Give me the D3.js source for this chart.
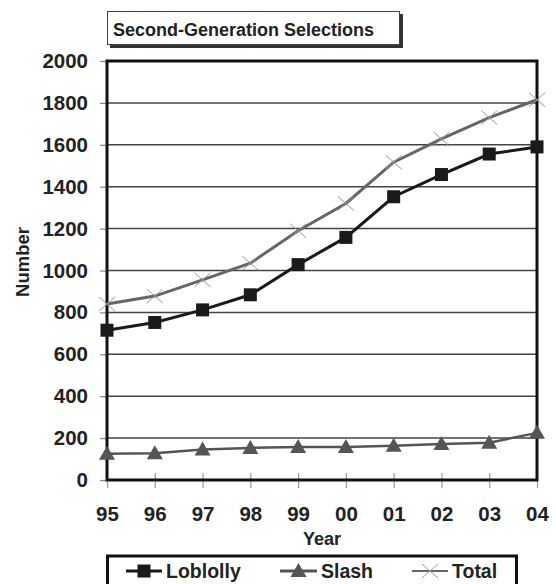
<!DOCTYPE html>
<html><head><meta charset="utf-8">
<script src="https://cdn.jsdelivr.net/npm/d3@7"></script>
<style>body{margin:0;background:#fff}svg{display:block;font-family:"Liberation Sans",Arial,sans-serif}</style>
</head><body>
<svg id="c" width="556" height="584"></svg>
<script>
const years = ["95","96","97","98","99","00","01","02","03","04"];
const loblolly = [715, 752, 812, 884, 1028, 1158, 1352, 1458, 1556, 1590];
const slash = [125, 128, 145, 153, 158, 158, 163, 172, 178, 225];
const total = [840, 878, 955, 1035, 1190, 1320, 1517, 1628, 1730, 1815];
const yTicks = [0, 200, 400, 600, 800, 1000, 1200, 1400, 1600, 1800, 2000];

const svg = d3.select("#c");
const L = 107, R = 537, T = 61, B = 480;
const x = d3.scalePoint().domain(years).range([L, R]);
const y = d3.scaleLinear().domain([0, 2000]).range([B, T]);
const FONT = "Liberation Sans, Arial, sans-serif";

// gridlines
svg.append("g").selectAll("line").data(yTicks.filter(d => d > 0 && d < 2000)).join("line")
  .attr("x1", L).attr("x2", R).attr("y1", d => y(d)).attr("y2", d => y(d))
  .attr("stroke", "#444").attr("stroke-width", 1.5);

// y axis
const ya = svg.append("g").attr("transform", `translate(${L},0)`)
  .call(d3.axisLeft(y).tickValues(yTicks).tickFormat(d3.format("d")).tickSize(7).tickPadding(12));
ya.select(".domain").remove();
ya.selectAll(".tick line").attr("stroke", "#888").attr("stroke-width", 1.2);
ya.selectAll(".tick text").attr("font-size", 20.5).attr("font-weight", "bold").attr("fill", "#222")
  .attr("font-family", FONT);

// x axis
const xa = svg.append("g").attr("transform", `translate(0,${B})`)
  .call(d3.axisBottom(x).tickSize(8).tickPadding(18));
xa.select(".domain").remove();
xa.selectAll(".tick line").attr("y1", -7).attr("stroke", "#999").attr("stroke-width", 1.2);
xa.selectAll(".tick text").attr("font-size", 20.5).attr("font-weight", "bold").attr("fill", "#222")
  .attr("font-family", FONT);

// plot border
svg.append("rect").attr("x", L).attr("y", T).attr("width", R - L).attr("height", B - T)
  .attr("fill", "none").attr("stroke", "#111").attr("stroke-width", 3);

const line = d3.line().x((d, i) => x(years[i])).y(d => y(d));

// Total
svg.append("path").datum(total).attr("d", line).attr("fill", "none")
  .attr("stroke", "#666").attr("stroke-width", 3);
svg.append("g").selectAll("path").data(total).join("path")
  .attr("transform", (d, i) => `translate(${x(years[i])},${y(d)})`)
  .attr("d", "M-8,-7L8,7M-8,7L8,-7").attr("stroke", "#999").attr("stroke-width", 1);

// Slash
svg.append("path").datum(slash).attr("d", line).attr("fill", "none")
  .attr("stroke", "#555").attr("stroke-width", 2.5);
svg.append("g").selectAll("path").data(slash).join("path")
  .attr("transform", (d, i) => `translate(${x(years[i])},${y(d)})`)
  .attr("d", "M0,-8L8,6L-8,6Z").attr("fill", "#555");

// Loblolly
svg.append("path").datum(loblolly).attr("d", line).attr("fill", "none")
  .attr("stroke", "#1a1a1a").attr("stroke-width", 3);
svg.append("g").selectAll("rect").data(loblolly).join("rect")
  .attr("x", (d, i) => x(years[i]) - 6.5).attr("y", d => y(d) - 6.5)
  .attr("width", 13).attr("height", 13).attr("fill", "#1a1a1a");

// title box
svg.append("rect").attr("x", 110).attr("y", 14).attr("width", 293).attr("height", 34).attr("fill", "#333");
svg.append("rect").attr("x", 107.5).attr("y", 11.5).attr("width", 292).attr("height", 33)
  .attr("fill", "#fff").attr("stroke", "#444").attr("stroke-width", 1);
svg.append("text").attr("x", 113).attr("y", 36).attr("font-size", 18).attr("font-weight", "bold")
  .attr("fill", "#222").text("Second-Generation Selections");

// axis titles
svg.append("text").attr("transform", "translate(29,262) rotate(-90)").attr("text-anchor", "middle")
  .attr("font-size", 18.5).attr("font-weight", "bold").attr("fill", "#222").text("Number");
svg.append("text").attr("x", (L + R) / 2).attr("y", 545).attr("text-anchor", "middle")
  .attr("font-size", 18).attr("font-weight", "bold").attr("fill", "#222").text("Year");

// legend
svg.append("rect").attr("x", 107.5).attr("y", 556).attr("width", 409).attr("height", 40)
  .attr("fill", "#fff").attr("stroke", "#111").attr("stroke-width", 3);
const lg = svg.append("g");
const items = [
  {name: "Loblolly", x0: 126, x1: 162, type: "sq", col: "#1a1a1a"},
  {name: "Slash", x0: 280, x1: 317, type: "tri", col: "#555"},
  {name: "Total", x0: 412, x1: 448, type: "x", col: "#666"}
];
const ly = 571;
items.forEach(it => {
  lg.append("line").attr("x1", it.x0).attr("x2", it.x1).attr("y1", ly).attr("y2", ly)
    .attr("stroke", it.col).attr("stroke-width", it.type === "x" ? 2 : 3);
  const cx = (it.x0 + it.x1) / 2;
  if (it.type === "sq") lg.append("rect").attr("x", cx - 6.5).attr("y", ly - 6.5).attr("width", 13).attr("height", 13).attr("fill", it.col);
  if (it.type === "tri") lg.append("path").attr("transform", `translate(${cx},${ly})`).attr("d", "M0,-8L8,6L-8,6Z").attr("fill", it.col);
  if (it.type === "x") lg.append("path").attr("transform", `translate(${cx},${ly})`).attr("d", "M-8,-7L8,7M-8,7L8,-7").attr("stroke", "#999").attr("stroke-width", 1);
  lg.append("text").attr("x", it.x1 + 4).attr("y", 577.5).attr("font-size", 19.5).attr("font-weight", "bold")
    .attr("fill", "#222").text(it.name);
});
</script>
</body></html>
